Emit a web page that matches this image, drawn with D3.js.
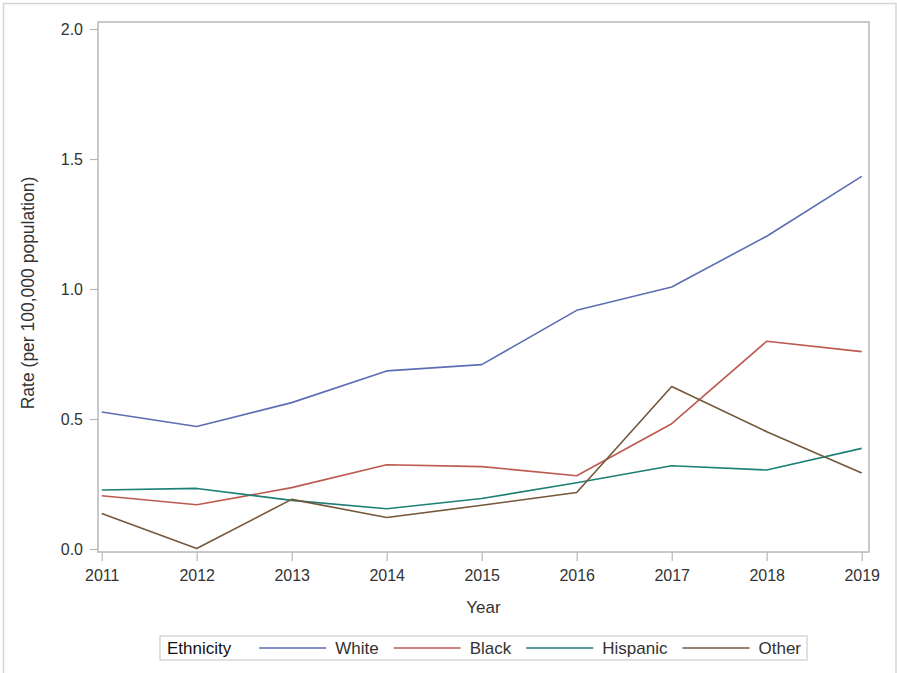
<!DOCTYPE html>
<html>
<head>
<meta charset="utf-8">
<script src="https://cdn.jsdelivr.net/npm/d3@7"></script>
<style>
  html, body { margin: 0; padding: 0; background: #fff; }
  svg { display: block; font-family: "Liberation Sans", Arial, sans-serif; }
</style>
</head>
<body>
<svg id="chart" width="897" height="673"></svg>
<script>
// Rates per 100,000 population, by year and ethnicity
const years = [2011, 2012, 2013, 2014, 2015, 2016, 2017, 2018, 2019];
const white    = [0.527, 0.471, 0.563, 0.685, 0.709, 0.918, 1.008, 1.203, 1.433];
const black    = [0.205, 0.170, 0.236, 0.324, 0.317, 0.282, 0.482, 0.799, 0.759];
const hispanic = [0.227, 0.233, 0.187, 0.155, 0.194, 0.255, 0.320, 0.304, 0.387];
const other    = [0.137, 0.002, 0.191, 0.121, 0.168, 0.217, 0.625, 0.451, 0.292];
const seriesNames = ["White", "Black", "Hispanic", "Other"];
const yTicks = [0, 0.5, 1.0, 1.5, 2.0];
const legendTitle = "Ethnicity";
const xTitle = "Year";
const yTitle = "Rate (per 100,000 population)";

const colors = ["#5d6db2", "#bd5a50", "#1c8076", "#74583a"];
const seriesValues = [white, black, hispanic, other];

const svg = d3.select("#chart");
const textColor = "#333333";
const axisColor = "#b2b8bc";

// outer border
svg.append("rect")
  .attr("x", 3.5).attr("y", 3.5)
  .attr("width", 892.5).attr("height", 690)
  .attr("fill", "none").attr("stroke", "#d6d6d6").attr("stroke-width", 1.5);

const x = d3.scaleLinear().domain([2011, 2019]).range([101.7, 861.7]);
const y = d3.scaleLinear().domain([0, 2]).range([549, 29]);

// plot frame
const frame = { left: 98, right: 869, top: 22, bottom: 552 };
svg.append("rect")
  .attr("x", frame.left).attr("y", frame.top)
  .attr("width", frame.right - frame.left).attr("height", frame.bottom - frame.top)
  .attr("fill", "none").attr("stroke", axisColor).attr("stroke-width", 1.5);

// y axis
const yAxis = svg.append("g")
  .attr("transform", `translate(${frame.left},0)`)
  .call(d3.axisLeft(y).tickValues(yTicks).tickFormat(d3.format(".1f")).tickSize(8).tickPadding(7));
yAxis.select(".domain").remove();
yAxis.selectAll(".tick line").attr("stroke", axisColor).attr("stroke-width", 1.2);
yAxis.selectAll(".tick text").attr("fill", textColor).style("font-size", "16px")
  .style("font-family", "'Liberation Sans', Arial, sans-serif");

// x axis
const xAxis = svg.append("g")
  .attr("transform", `translate(0,${frame.bottom})`)
  .call(d3.axisBottom(x).tickValues(years).tickFormat(d3.format("d")).tickSize(9).tickPadding(9));
xAxis.select(".domain").remove();
xAxis.selectAll(".tick line").attr("stroke", axisColor).attr("stroke-width", 1.2);
xAxis.selectAll(".tick text").attr("fill", textColor).style("font-size", "16px")
  .style("font-family", "'Liberation Sans', Arial, sans-serif");

// axis titles
svg.append("text")
  .attr("x", (frame.left + frame.right) / 2).attr("y", 613)
  .attr("text-anchor", "middle").attr("fill", textColor)
  .style("font-size", "17px").text(xTitle);

svg.append("text")
  .attr("transform", `translate(34,${(frame.top + frame.bottom) / 2 + 6}) rotate(-90)`)
  .attr("text-anchor", "middle").attr("fill", textColor)
  .style("font-size", "17.5px").text(yTitle);

// series lines
const line = d3.line().x((d, i) => x(years[i])).y(d => y(d));
seriesValues.forEach((vals, k) => {
  svg.append("path")
    .datum(vals)
    .attr("d", line)
    .attr("fill", "none")
    .attr("stroke", colors[k])
    .attr("stroke-width", 1.6)
    .attr("stroke-linejoin", "round");
});

// legend
const legend = svg.append("g");
const legendY = 648;
const lineLen = 67;
let cx = 165;
const title = legend.append("text")
  .attr("x", cx).attr("y", legendY).attr("dy", "0.35em")
  .attr("fill", "#111").style("font-size", "17px").text(legendTitle);
cx += title.node().getComputedTextLength() + 28;
seriesNames.forEach((name, k) => {
  legend.append("line")
    .attr("x1", cx).attr("x2", cx + lineLen)
    .attr("y1", legendY).attr("y2", legendY)
    .attr("stroke", colors[k]).attr("stroke-width", 1.6);
  cx += lineLen + 9;
  const t = legend.append("text")
    .attr("x", cx).attr("y", legendY).attr("dy", "0.35em")
    .attr("fill", textColor).style("font-size", "17px").text(name);
  cx += t.node().getComputedTextLength() + (k < seriesNames.length - 1 ? 15 : 6);
});
const boxLeft = 158;
legend.insert("rect", ":first-child")
  .attr("x", boxLeft).attr("y", 636)
  .attr("width", cx - boxLeft).attr("height", 24)
  .attr("fill", "#fff").attr("stroke", "#d6d6d6").attr("stroke-width", 1.5);
// center the legend under the plot
const legendWidth = cx - boxLeft;
const shift = (frame.left + frame.right) / 2 - (boxLeft + legendWidth / 2);
legend.attr("transform", `translate(${shift},0)`);
</script>
</body>
</html>
